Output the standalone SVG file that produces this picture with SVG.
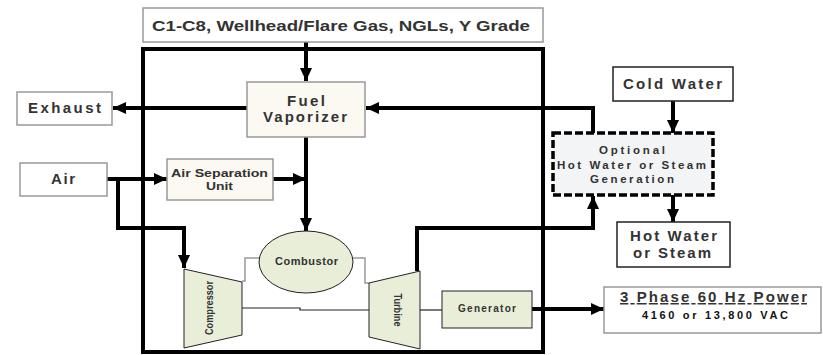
<svg xmlns="http://www.w3.org/2000/svg" width="823" height="355" viewBox="0 0 823 355">
<style>
.t{font-family:"Liberation Sans",Arial,sans-serif;font-weight:bold;fill:#333;text-anchor:middle}
.box{fill:#fff;stroke:#999;stroke-width:1.5}
.cream{fill:#fbf9f1;stroke:#999;stroke-width:1.5}
.green{fill:#e8eed8;stroke:#222;stroke-width:1}
.dark{fill:#fff;stroke:#222;stroke-width:1.5}
.c{fill:none;stroke:#000;stroke-width:4}
.thin{fill:none;stroke:#222;stroke-width:1.2}
.gray{fill:none;stroke:#999;stroke-width:1.5}
</style>
<defs>
<marker id="ah" markerUnits="userSpaceOnUse" markerWidth="13" markerHeight="12" refX="13" refY="6" orient="auto">
<path d="M0,0 L13,6 L0,12 z" fill="#000"/>
</marker>
</defs>
<rect x="0" y="0" width="823" height="355" fill="#fff"/>
<rect id="frame" x="143" y="49" width="400" height="303" fill="none" stroke="#000" stroke-width="4"/>

<g id="connectors">
<path class="c" d="M306,42 V81" marker-end="url(#ah)"/>
<path class="c" d="M247,108 H113" marker-end="url(#ah)"/>
<path class="c" d="M593,133 V108 H366" marker-end="url(#ah)"/>
<path class="c" d="M107,179 H167" marker-end="url(#ah)"/>
<path class="c" d="M273,179 H306" marker-end="url(#ah)"/>
<path class="c" d="M306,137 V231" marker-end="url(#ah)"/>
<path class="c" d="M118,179 V228 H184 V268" marker-end="url(#ah)"/>
<path class="c" d="M417,271 V228 H593 V196" marker-end="url(#ah)"/>
<path class="c" d="M673,101 V133" marker-end="url(#ah)"/>
<path class="c" d="M673,195 V222" marker-end="url(#ah)"/>
<path class="c" d="M532,309 H604" marker-end="url(#ah)"/>
<path class="gray" d="M242,281 H245 V258 H259"/>
<path class="gray" d="M353,258 H365 V283 H369"/>
<path class="thin" d="M242,308 H300 V310 H369"/>
<path class="thin" d="M420,310 H442"/>
</g>

<g id="feed">
<rect class="box" x="143" y="8" width="400" height="34" stroke="#aaa"/>
<text class="t" x="341" y="31" font-size="15" textLength="378" lengthAdjust="spacingAndGlyphs">C1-C8, Wellhead/Flare Gas, NGLs, Y Grade</text>
</g>
<g id="exhaust">
<rect class="box" x="17" y="92" width="95" height="33"/>
<text class="t" x="64.5" y="113" font-size="15" textLength="73" lengthAdjust="spacing">Exhaust</text>
</g>
<g id="fuel-vaporizer">
<rect class="cream" x="247" y="82" width="118" height="55"/>
<text class="t" x="306" y="106" font-size="15" textLength="38" lengthAdjust="spacing">Fuel</text>
<text class="t" x="305" y="122" font-size="15" textLength="84" lengthAdjust="spacing">Vaporizer</text>
</g>
<g id="air">
<rect class="box" x="20" y="163" width="87" height="33"/>
<text class="t" x="63" y="184" font-size="15" textLength="24" lengthAdjust="spacing">Air</text>
</g>
<g id="asu">
<rect class="cream" x="167" y="159" width="106" height="41"/>
<text class="t" x="219.5" y="177" font-size="11" textLength="97" lengthAdjust="spacingAndGlyphs">Air Separation</text>
<text class="t" x="219.5" y="190" font-size="11" textLength="27" lengthAdjust="spacingAndGlyphs">Unit</text>
</g>
<g id="combustor">
<ellipse cx="306" cy="262" rx="47" ry="31" fill="#e8eed8" stroke="#222" stroke-width="1"/>
<text class="t" x="306.5" y="265" font-size="11" textLength="63" lengthAdjust="spacing">Combustor</text>
</g>
<g id="compressor">
<polygon class="green" points="184,269 242,282 242,335 184,348"/>
<text class="t" transform="translate(213,308) rotate(-90)" x="0" y="0" font-size="11" textLength="54" lengthAdjust="spacingAndGlyphs">Compressor</text>
</g>
<g id="turbine">
<polygon class="green" points="369,283 420,271 420,349 369,337"/>
<text class="t" transform="translate(394,310) rotate(90)" x="0" y="0" font-size="11" textLength="33" lengthAdjust="spacingAndGlyphs">Turbine</text>
</g>
<g id="generator">
<rect class="green" x="442" y="291" width="90" height="37"/>
<text class="t" x="487" y="312" font-size="10" textLength="58" lengthAdjust="spacing">Generator</text>
</g>
<g id="cold-water">
<rect class="dark" x="613" y="67" width="120" height="34"/>
<text class="t" x="672.5" y="89" font-size="15" textLength="99" lengthAdjust="spacing">Cold Water</text>
</g>
<g id="optional">
<rect x="553" y="133" width="160" height="62" fill="#f2f4f6" stroke="#000" stroke-width="3.5" stroke-dasharray="8,3"/>
<text class="t" x="632" y="154" font-size="11.5" textLength="66" lengthAdjust="spacing">Optional</text>
<text class="t" x="631.5" y="169" font-size="11.5" textLength="149" lengthAdjust="spacing">Hot Water or Steam</text>
<text class="t" x="632" y="183" font-size="11.5" textLength="84" lengthAdjust="spacing">Generation</text>
</g>
<g id="hot-water">
<rect class="dark" x="617" y="222" width="113" height="45"/>
<text class="t" x="673.5" y="241" font-size="15" textLength="87" lengthAdjust="spacing">Hot Water</text>
<text class="t" x="672" y="258" font-size="15" textLength="78" lengthAdjust="spacing">or Steam</text>
</g>
<g id="power">
<rect class="box" x="604" y="287" width="217" height="46" stroke="#aaa"/>
<text class="t" x="713.5" y="302" font-size="15" textLength="187" lengthAdjust="spacing" text-decoration="underline">3 Phase 60 Hz Power</text>
<text class="t" x="715" y="319" font-size="11" style="fill:#111" textLength="146" lengthAdjust="spacing">4160 or 13,800 VAC</text>
</g>
</svg>
